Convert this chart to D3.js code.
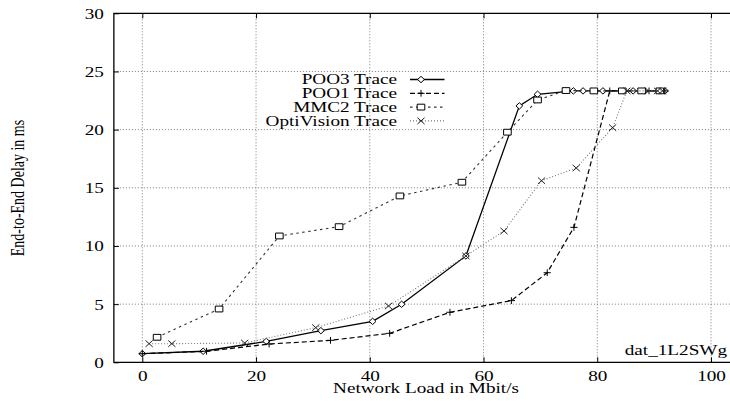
<!DOCTYPE html>
<html>
<head>
<meta charset="utf-8">
<script src="https://cdn.jsdelivr.net/npm/d3@7"></script>
<style>
  html, body { margin: 0; padding: 0; background: #fff; }
  svg { display: block; }
  text { font-family: "Liberation Serif", "Times New Roman", serif; font-size: 14px; fill: #000; }
</style>
</head>
<body>
<svg id="chart" width="730" height="401"></svg>
<script>
// Network load (Mbit/s) and end-to-end delay (ms) per trace
const poo3Load  = [0, 10.7, 21.8, 31.4, 40.5, 45.6, 56.9, 66.3, 69.5, 75.8, 77.5, 81.0, 86.3, 88.4, 91.9];
const poo3Delay = [0.74, 0.95, 1.8, 2.72, 3.52, 4.99, 9.14, 22.04, 23.04, 23.33, 23.33, 23.33, 23.33, 23.33, 23.33];

const poo1Load  = [0, 11.3, 22.3, 33.1, 43.5, 54.1, 64.9, 71.2, 75.9, 82.2, 89.1, 91.9];
const poo1Delay = [0.74, 0.95, 1.57, 1.89, 2.49, 4.3, 5.3, 7.7, 11.6, 23.33, 23.33, 23.33];

const mmc2Load  = [2.6, 13.5, 24.1, 34.6, 45.3, 56.2, 64.2, 69.5, 74.5, 79.4, 84.4, 87.8, 91.0];
const mmc2Delay = [2.15, 4.58, 10.86, 11.66, 14.3, 15.48, 19.78, 22.55, 23.36, 23.33, 23.33, 23.33, 23.33];

const optiLoad  = [1.2, 5.2, 18.0, 30.5, 43.3, 56.9, 63.6, 70.2, 76.3, 82.7, 85.2, 90.6, 91.5];
const optiDelay = [1.6, 1.6, 1.66, 2.98, 4.84, 9.14, 11.29, 15.61, 16.7, 20.17, 23.33, 23.33, 23.33];

const seriesNames = ["POO3 Trace", "POO1 Trace", "MMC2 Trace", "OptiVision Trace"];
const xTicks = [0, 20, 40, 60, 80, 100];
const yTicks = [0, 5, 10, 15, 20, 25, 30];

const xLabel = "Network Load in Mbit/s";
const yLabel = "End-to-End Delay in ms";
const dataLabel = "dat_1L2SWg";

// Text is drawn with a horizontal stretch
const SX = 1.37;

const svg = d3.select("#chart");

const x = d3.scaleLinear().domain([0, 100]).range([142.3, 711]);
const y = d3.scaleLinear().domain([0, 30]).range([362.3, 13.3]);
const xMin = -5, xMax = 105;

const plotLeft = x(xMin), plotRight = x(xMax), plotTop = y(30), plotBottom = y(0);

// Grid
const grid = svg.append("g")
  .attr("stroke", "#7a7a7a")
  .attr("stroke-width", 1)
  .attr("stroke-dasharray", "1,2")
  .attr("fill", "none");
xTicks.forEach(t => {
  grid.append("line").attr("x1", x(t)).attr("x2", x(t)).attr("y1", plotTop).attr("y2", plotBottom);
});
yTicks.filter(t => t > 0 && t < 30).forEach(t => {
  grid.append("line").attr("x1", plotLeft).attr("x2", plotRight).attr("y1", y(t)).attr("y2", y(t));
});

// Axes with inward ticks
const xAxis = svg.append("g")
  .attr("transform", `translate(0,${plotBottom})`)
  .call(d3.axisBottom(x).tickValues(xTicks).tickSize(-5).tickPadding(0).tickFormat(d3.format("d")));
const xAxisTop = svg.append("g")
  .attr("transform", `translate(0,${plotTop})`)
  .call(d3.axisTop(x).tickValues(xTicks).tickSize(-5).tickFormat(""));
const yAxis = svg.append("g")
  .attr("transform", `translate(${plotLeft},0)`)
  .call(d3.axisLeft(y).tickValues(yTicks).tickSize(-5).tickPadding(0).tickFormat(d3.format("d")));

[xAxis, xAxisTop, yAxis].forEach(a => {
  a.select(".domain").remove();
  a.selectAll(".tick line").attr("stroke", "#000").attr("stroke-width", 1);
});

xAxis.selectAll(".tick text")
  .attr("y", 0).attr("dy", null)
  .attr("text-anchor", "middle")
  .attr("transform", `translate(0,18.5) scale(${SX},1)`);

yAxis.selectAll(".tick text")
  .attr("x", 0).attr("dy", "0.35em")
  .attr("text-anchor", "end")
  .attr("transform", `translate(-10,0) scale(${SX},1)`);

[xAxis, yAxis].forEach(a => a.attr("font-family", null).attr("font-size", null));

// Frame
svg.append("path")
  .attr("d", `M${plotRight},${plotTop}H${plotLeft}V${plotBottom}H${plotRight}`)
  .attr("fill", "none")
  .attr("stroke", "#000")
  .attr("stroke-width", 1.3);

// Axis titles
svg.append("text")
  .attr("text-anchor", "middle")
  .attr("transform", `translate(426,393) scale(${SX},1)`)
  .text(xLabel);

svg.append("text")
  .attr("text-anchor", "middle")
  .attr("transform", `translate(24,188) scale(${SX},1) rotate(-90)`)
  .text(yLabel);

svg.append("text")
  .attr("text-anchor", "end")
  .attr("transform", `translate(727,355) scale(${SX},1)`)
  .text(dataLabel);

// Marker shapes
const markers = {
  diamond: "M0,-3.2L3.4,0L0,3.2L-3.4,0Z",
  plus: "M-3.6,0H3.6M0,-3.4V3.4",
  square: "M-3.8,-2.9H3.8V2.9H-3.8Z",
  cross: "M-3.6,-3.2L3.6,3.2M-3.6,3.2L3.6,-3.2"
};

const series = [
  { name: seriesNames[0], xs: poo3Load, ys: poo3Delay, dash: null, color: "#000", width: 1.3, marker: "diamond" },
  { name: seriesNames[1], xs: poo1Load, ys: poo1Delay, dash: "5,3", color: "#000", width: 1.2, marker: "plus" },
  { name: seriesNames[2], xs: mmc2Load, ys: mmc2Delay, dash: "2.5,3.5", color: "#333", width: 1.1, marker: "square" },
  { name: seriesNames[3], xs: optiLoad, ys: optiDelay, dash: "1,2", color: "#777", width: 1.1, marker: "cross" }
];

const line = d3.line().x(d => x(d[0])).y(d => y(d[1]));

series.forEach(s => {
  const pts = s.xs.map((v, i) => [v, s.ys[i]]);
  svg.append("path")
    .datum(pts)
    .attr("d", line)
    .attr("fill", "none")
    .attr("stroke", s.color)
    .attr("stroke-width", s.width)
    .attr("stroke-dasharray", s.dash);
  svg.append("g").selectAll("path")
    .data(pts)
    .join("path")
    .attr("transform", d => `translate(${x(d[0])},${y(d[1])})`)
    .attr("d", markers[s.marker])
    .attr("fill", s.marker === "square" || s.marker === "diamond" ? "#fff" : "none")
    .attr("stroke", s.marker === "cross" ? "#222" : "#000")
    .attr("stroke-width", 1);
});

// Legend
const legend = svg.append("g");
series.forEach((s, i) => {
  const cy = 79.5 + 13.8 * i;
  legend.append("text")
    .attr("text-anchor", "end")
    .attr("transform", `translate(397,${cy + 4.6}) scale(${SX},1)`)
    .text(s.name);
  legend.append("line")
    .attr("x1", 410).attr("x2", 444.5).attr("y1", cy).attr("y2", cy)
    .attr("stroke", s.color)
    .attr("stroke-width", s.width)
    .attr("stroke-dasharray", s.dash);
  legend.append("path")
    .attr("transform", `translate(421,${cy})`)
    .attr("d", markers[s.marker])
    .attr("fill", s.marker === "square" || s.marker === "diamond" ? "#fff" : "none")
    .attr("stroke", s.marker === "cross" ? "#222" : "#000")
    .attr("stroke-width", 1);
});
</script>
</body>
</html>
